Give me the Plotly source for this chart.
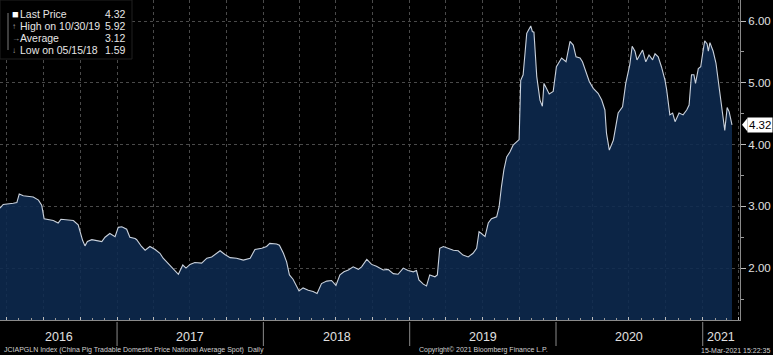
import plotly.graph_objects as go
import pandas as pd

# ---------------- data ----------------
dates = [
    "2016-03-15", "2016-03-23", "2016-04-17", "2016-04-26", "2016-05-02", "2016-05-12",
    "2016-06-06", "2016-06-19", "2016-06-27", "2016-07-03", "2016-07-26", "2016-08-07",
    "2016-08-14", "2016-09-14", "2016-09-26", "2016-10-07", "2016-10-13", "2016-10-19",
    "2016-10-30", "2016-11-15", "2016-11-24", "2016-12-02", "2016-12-14", "2016-12-27",
    "2017-01-04", "2017-01-13", "2017-01-25", "2017-02-02", "2017-02-15", "2017-02-19",
    "2017-03-03", "2017-03-12", "2017-03-24", "2017-04-06", "2017-04-18", "2017-04-26",
    "2017-05-13", "2017-05-25", "2017-06-03", "2017-06-14", "2017-06-22", "2017-07-02",
    "2017-07-14", "2017-07-31", "2017-08-13", "2017-08-25", "2017-09-05", "2017-09-15",
    "2017-09-27", "2017-10-10", "2017-10-26", "2017-11-12", "2017-11-29", "2017-12-11",
    "2017-12-28", "2018-01-09", "2018-01-17", "2018-02-03", "2018-02-10", "2018-02-20",
    "2018-02-28", "2018-03-07", "2018-03-16", "2018-03-25", "2018-03-31", "2018-04-10",
    "2018-04-23", "2018-05-05", "2018-05-15", "2018-05-26", "2018-06-08", "2018-06-20",
    "2018-07-01", "2018-07-11", "2018-07-21", "2018-08-01", "2018-08-13", "2018-08-26",
    "2018-09-03", "2018-09-16", "2018-09-28", "2018-10-10", "2018-10-27", "2018-11-08",
    "2018-11-21", "2018-12-03", "2018-12-16", "2018-12-28", "2019-01-10", "2019-01-18",
    "2019-01-24", "2019-02-04", "2019-02-12", "2019-02-20", "2019-03-05", "2019-03-11",
    "2019-03-17", "2019-03-26", "2019-04-07", "2019-04-20", "2019-05-02", "2019-05-14",
    "2019-05-27", "2019-06-08", "2019-06-17", "2019-06-23", "2019-06-29", "2019-07-08",
    "2019-07-16", "2019-07-24", "2019-08-06", "2019-08-12", "2019-08-18", "2019-08-24",
    "2019-08-31", "2019-09-08", "2019-09-16", "2019-09-25", "2019-10-01", "2019-10-05",
    "2019-10-11", "2019-10-20", "2019-10-30", "2019-11-03", "2019-11-07", "2019-11-14",
    "2019-11-22", "2019-11-28", "2019-12-02", "2019-12-08", "2019-12-15", "2019-12-25",
    "2020-01-02", "2020-01-15", "2020-01-26", "2020-02-05", "2020-02-13", "2020-02-20",
    "2020-03-01", "2020-03-07", "2020-03-13", "2020-03-24", "2020-04-03", "2020-04-15",
    "2020-04-24", "2020-05-02", "2020-05-06", "2020-05-13", "2020-05-23", "2020-06-04",
    "2020-06-15", "2020-06-23", "2020-07-03", "2020-07-09", "2020-07-16", "2020-07-21",
    "2020-07-28", "2020-08-04", "2020-08-12", "2020-08-20", "2020-08-29", "2020-09-04",
    "2020-09-12", "2020-09-20", "2020-09-29", "2020-10-03", "2020-10-11", "2020-10-18",
    "2020-10-24", "2020-11-03", "2020-11-13", "2020-11-22", "2020-11-28", "2020-12-04",
    "2020-12-10", "2020-12-14", "2020-12-21", "2020-12-27", "2021-01-01", "2021-01-06",
    "2021-01-12", "2021-01-15", "2021-01-19", "2021-01-27", "2021-02-03", "2021-02-08",
    "2021-02-14", "2021-02-21", "2021-02-25", "2021-03-03", "2021-03-08", "2021-03-15",
]
prices = [
    2.97, 3.03, 3.05, 3.06, 3.20, 3.17,
    3.15, 3.10, 3.02, 2.80, 2.77, 2.73,
    2.79, 2.77, 2.70, 2.45, 2.36, 2.43,
    2.46, 2.44, 2.43, 2.50, 2.56, 2.51,
    2.66, 2.67, 2.63, 2.50, 2.48, 2.46,
    2.35, 2.29, 2.35, 2.30, 2.24, 2.16,
    2.05, 1.97, 1.90, 2.05, 2.00, 2.06,
    2.09, 2.08, 2.16, 2.18, 2.24, 2.28,
    2.22, 2.17, 2.16, 2.13, 2.16, 2.30,
    2.32, 2.35, 2.40, 2.39, 2.37, 2.24,
    2.10, 1.89, 1.82, 1.70, 1.63, 1.68,
    1.64, 1.62, 1.59, 1.75, 1.79, 1.80,
    1.72, 1.89, 1.94, 1.97, 2.02, 1.98,
    2.02, 2.14, 2.06, 2.03, 1.97, 1.98,
    1.91, 1.90, 2.00, 1.96, 1.94, 1.96,
    1.81, 1.74, 1.71, 1.89, 1.86, 1.89,
    2.32, 2.35, 2.32, 2.29, 2.28, 2.21,
    2.18, 2.24, 2.32, 2.59, 2.56, 2.51,
    2.73, 2.80, 2.83, 2.99, 3.32, 3.59,
    3.80, 3.88, 3.99, 4.05, 4.08, 5.04,
    5.13, 5.80, 5.92, 5.83, 5.82, 5.10,
    4.72, 4.62, 4.99, 4.91, 4.82, 4.86,
    5.26, 5.40, 5.34, 5.67, 5.61, 5.42,
    5.40, 5.34, 5.23, 5.02, 4.91, 4.83,
    4.72, 4.56, 4.18, 3.91, 4.07, 4.51,
    4.61, 4.99, 5.29, 5.59, 5.51, 5.37,
    5.45, 5.53, 5.34, 5.45, 5.37, 5.47,
    5.42, 5.26, 5.04, 4.89, 4.48, 4.51,
    4.37, 4.51, 4.48, 4.56, 4.64, 5.13,
    5.13, 4.99, 5.23, 5.26, 5.48, 5.68,
    5.63, 5.51, 5.65, 5.51, 5.32, 5.07,
    4.83, 4.45, 4.23, 4.60, 4.53, 4.32,
]
year_labels = ["2016", "2017", "2018", "2019", "2020", "2021"]
y_tick_values = [2, 3, 4, 5, 6]
average_price = 3.12
x_range = ["2016-03-15", "2021-04-04"]
y_range = [1.16, 6.34]
ticker_text = "JCIAPGLN Index (China Pig Tradable Domestic Price National Average Spot)  Daily"
copyright_text = "Copyright\u00a9 2021 Bloomberg Finance L.P."
stamp_text = "15-Mar-2021 15:22:35"

# ---------------- figure ----------------
W, H = 773, 355
L, R, T, B = 0, 33, 0, 35
PW, PH = W - L - R, H - T - B
FONT = "Liberation Sans, Arial, sans-serif"


def px(x):
    return x / PW


def py(y):
    return 1 - y / PH


s = pd.Series(prices, index=pd.to_datetime(dates))
last_v = s.iloc[-1]
hi_d, hi_v = s.idxmax(), s.max()
lo_d, lo_v = s.idxmin(), s.min()

fig = go.Figure()
fig.add_trace(go.Scatter(
    x=s.index, y=s.values, mode="lines",
    line=dict(color="#c9d1dc", width=1.1),
    fill="tozeroy", fillcolor="rgba(14,42,80,0.88)",
    hoverinfo="skip", showlegend=False,
))

fig.update_layout(
    width=W, height=H,
    margin=dict(l=L, r=R, t=T, b=B),
    paper_bgcolor="black", plot_bgcolor="black",
    font=dict(family=FONT, color="#d8d8d8", size=11),
    showlegend=False,
)

fig.update_xaxes(
    range=x_range, type="date",
    showgrid=True, gridcolor="#4a4a4a", griddash="dot", gridwidth=1,
    dtick="M3", tick0="2016-01-01",
    showticklabels=False,
    ticks="inside", ticklen=3, tickcolor="#bbbbbb",
    minor=dict(dtick="M1", tick0="2016-01-01", ticks="inside", ticklen=2,
               tickcolor="#999999", showgrid=False),
    showline=True, linecolor="#8a8a8a", linewidth=1,
    zeroline=False,
)
fig.update_yaxes(
    range=y_range, side="right",
    tickvals=y_tick_values, ticktext=[f"{v:.2f}" for v in y_tick_values],
    showgrid=True, gridcolor="#4a4a4a", griddash="dot", gridwidth=1,
    ticks="outside", ticklen=5, tickcolor="#bbbbbb",
    minor=dict(tickvals=[v + 0.5 for v in [1] + y_tick_values], ticks="outside",
               ticklen=3, tickcolor="#999999", showgrid=False),
    tickfont=dict(size=11.5, color="#e0e0e0"),
    showline=True, linecolor="#8a8a8a", linewidth=1,
    zeroline=False,
)

# year labels and separators
xmin, xmax = pd.Timestamp(x_range[0]), pd.Timestamp(x_range[1])
for lab in year_labels:
    y0 = pd.Timestamp(f"{lab}-01-01")
    y1 = pd.Timestamp(f"{int(lab) + 1}-01-01")
    a, b = max(y0, xmin), min(y1, xmax)
    mid = a + (b - a) / 2
    fig.add_annotation(x=mid, xref="x", y=py(337), yref="paper", text=lab,
                       showarrow=False, font=dict(size=12.5, color="#e0e0e0"),
                       xanchor="center", yanchor="middle")
    if y0 > xmin:
        fig.add_shape(type="line", xref="x", yref="paper", x0=y0, x1=y0,
                      y0=py(322), y1=py(346), line=dict(color="#8a8a8a", width=1))

# footer
fig.add_annotation(x=px(2), y=py(350), xref="paper", yref="paper", text=ticker_text,
                   showarrow=False, xanchor="left", yanchor="middle",
                   font=dict(size=7, color="#d0d0d0"))
fig.add_annotation(x=px(417), y=py(350), xref="paper", yref="paper", text=copyright_text,
                   showarrow=False, xanchor="left", yanchor="middle",
                   font=dict(size=7, color="#d0d0d0"))
fig.add_annotation(x=px(772), y=py(350), xref="paper", yref="paper", text=stamp_text,
                   showarrow=False, xanchor="right", yanchor="middle",
                   font=dict(size=7, color="#d0d0d0"))

# last price tag
fig.add_annotation(x=px(747), xref="paper", y=last_v, yref="y", text=f"{last_v:.2f}",
                   showarrow=False, xanchor="left", yanchor="middle",
                   bgcolor="white", borderpad=1,
                   font=dict(size=11.5, color="black"))
fig.add_shape(type="path", xref="paper", yref="y",
              path=f"M {px(742)} {last_v} L {px(747.5)} {last_v + 0.11} L {px(747.5)} {last_v - 0.11} Z",
              fillcolor="white", line=dict(width=0))

# legend box
fig.add_shape(type="rect", xref="paper", yref="paper",
              x0=px(0), x1=px(132), y0=py(59), y1=py(0),
              fillcolor="black", line=dict(color="#202020", width=1), layer="above")
fig.add_shape(type="line", xref="paper", yref="paper",
              x0=px(8), x1=px(8), y0=py(13), y1=py(50),
              line=dict(color="#7a7a7a", width=1), layer="above")
rows = [
    ("\u25a0", "Last Price", f"{last_v:.2f}", "#ffffff", 11),
    ("\u2191", f"High on {hi_d:%m/%d/%y}", f"{hi_v:.2f}", "#a0a0a0", 8),
    ("\u2192", "Average", f"{average_price:.2f}", "#a0a0a0", 8),
    ("\u2193", f"Low on {lo_d:%m/%d/%y}", f"{lo_v:.2f}", "#a0a0a0", 8),
]
for i, (mk, lab, val, mcol, msz) in enumerate(rows):
    yy = py(14 + 12 * i)
    fig.add_annotation(x=px(10), y=yy, xref="paper", yref="paper", text=mk,
                       showarrow=False, xanchor="left", yanchor="middle",
                       font=dict(size=msz, color=mcol))
    fig.add_annotation(x=px(18), y=yy, xref="paper", yref="paper", text=lab,
                       showarrow=False, xanchor="left", yanchor="middle",
                       font=dict(size=10.5, color="#e6e6e6"))
    fig.add_annotation(x=px(128), y=yy, xref="paper", yref="paper", text=val,
                       showarrow=False, xanchor="right", yanchor="middle",
                       font=dict(size=10.5, color="#e6e6e6"))

fig.write_html("out.html")
